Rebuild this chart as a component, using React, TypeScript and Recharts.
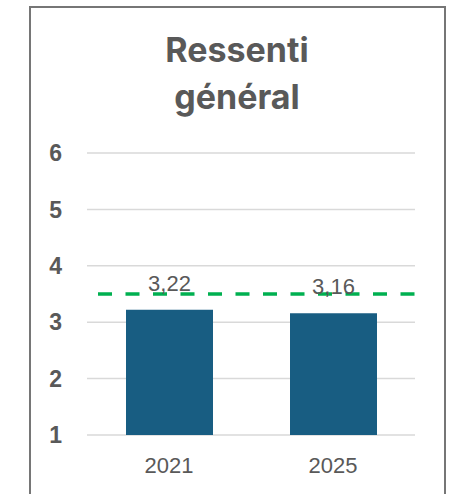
import React from "react";
import { BarChart, Bar, XAxis, YAxis, CartesianGrid, ReferenceLine, LabelList } from "recharts";

const categories = ["2021", "2025"];
const values = [3.22, 3.16];
const yTicks = [1, 2, 3, 4, 5, 6];
const targetValue = 3.5;
const title = ["Ressenti", "général"];

const data = categories.map((c, i) => ({ year: c, value: values[i] }));

const DashedTarget = (p: any) => (
  <line
    x1={p.x1 + 11}
    y1={p.y1}
    x2={p.x2 + 5}
    y2={p.y2}
    stroke="#00B050"
    strokeWidth={3.5}
    strokeDasharray="14 13.5"
  />
);

const FONT = "'Liberation Sans', Arial, sans-serif";

export default function App() {
  return (
    <div style={{ position: "absolute", left: 0, top: 0, width: 454, height: 494, overflow: "hidden", background: "#fff" }}>
      <div
        style={{
          position: "absolute",
          left: 29,
          top: 6,
          width: 413,
          height: 520,
          border: "2px solid #767676",
        }}
      />
      <div
        style={{
          position: "absolute",
          left: 31,
          width: 412,
          top: 26,
          textAlign: "center",
          fontFamily: "Inter, 'Open Sans', sans-serif",
          fontWeight: 700,
          fontSize: 34,
          lineHeight: "47px",
          color: "#595959",
        }}
      >
        <div>{title[0]}</div>
        <div>{title[1]}</div>
      </div>
      <div style={{ position: "absolute", left: 0, top: 0 }}>
        <BarChart width={454} height={494} data={data} margin={{ top: 153, right: 39, bottom: 29, left: 27 }}>
          <CartesianGrid vertical={false} stroke="#D9D9D9" strokeWidth={1.5} />
          <XAxis
            dataKey="year"
            axisLine={false}
            tickLine={false}
            height={30}
            tickMargin={16}
            tick={{ fill: "#595959", fontSize: 22, fontFamily: FONT }}
          />
          <YAxis
            domain={[1, 6]}
            ticks={yTicks}
            width={60}
            axisLine={false}
            tickLine={false}
            tickMargin={19}
            tick={{ fill: "#595959", fontSize: 23, fontWeight: 700, fontFamily: FONT }}
          />
          <Bar dataKey="value" fill="#185D82" barSize={87} isAnimationActive={false}>
            <LabelList
              dataKey="value"
              position="top"
              offset={19}
              formatter={(v: any) => String(v).replace(".", ",")}
              style={{ fill: "#595959", fontSize: 22, fontFamily: FONT }}
            />
          </Bar>
          <ReferenceLine y={targetValue} shape={DashedTarget} />
        </BarChart>
      </div>
    </div>
  );
}
